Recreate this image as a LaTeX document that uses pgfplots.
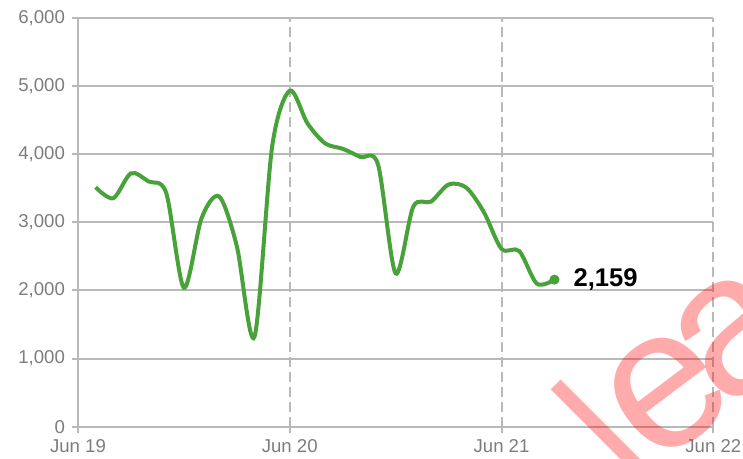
\documentclass[border=0pt]{standalone}
\usepackage{fontspec}
\setmainfont{Liberation Sans}
\usepackage{pgfplots}
\pgfplotsset{compat=1.18}
\definecolor{linegreen}{RGB}{72,162,58}
\definecolor{gridgray}{RGB}{185,185,185}
\definecolor{labelgray}{RGB}{125,125,125}

\pgfplotstableread{
h v
2 3515
4 3354
6 3720
8 3600
10 3430
12 2040
14 3060
16 3380
18 2650
20 1320
22 4110
24 4934
26 4455
28 4160
30 4080
32 3960
34 3850
36 2250
38 3231
40 3304
42 3556
44 3510
46 3150
48 2610
50 2580
52 2100
54 2159
}\datatable

\begin{document}
\begin{tikzpicture}
\begin{axis}[
  name=ax,
  scale only axis,
  width=317.65pt, height=204.35pt,
  xmin=0, xmax=72, ymin=0, ymax=6000,
  axis lines=left,
  axis line style={-, draw=gridgray, line width=1pt},
  xtick={0,24,48,72},
  xticklabels={Jun 19,Jun 20,Jun 21,Jun 22},
  ytick={0,1000,...,6000},
  tick align=outside,
  major tick length=3pt,
  tick style={draw=gridgray, line width=1pt},
  ymajorgrids, xmajorgrids,
  y grid style={draw=gridgray, line width=1pt},
  x grid style={draw=gridgray, line width=1pt, dash pattern=on 5pt off 2.5pt},
  ticklabel style={font=\fontsize{9.3}{11}\selectfont, text=labelgray},
  /pgf/number format/1000 sep={,},
  /pgf/number format/assume math mode=true,
]
\addplot[linegreen, line width=2pt, smooth, tension=0.5] table[x=h, y=v] {\datatable};
\addplot[only marks, mark=*, mark size=2.3pt, linegreen] coordinates {(54,2159)};
\node[anchor=west, xshift=6pt, font=\bfseries\fontsize{12.8}{15}\selectfont] at (axis cs:54,2159) {2,159};
\coordinate (wml) at (axis cs:58.84,10);
\coordinate (wme) at (axis cs:66.77,495);
\coordinate (wma) at (axis cs:74.48,1347);
\end{axis}
\begin{scope}[every node/.style={text=red, opacity=0.33, inner sep=0pt}]
\node[rotate=45, anchor=center, font=\fontsize{80}{90}\selectfont] at (wml) {l};
\node[rotate=37, anchor=center, font=\fontsize{100}{110}\selectfont] at (wme) {e};
\node[rotate=39, anchor=center, font=\fontsize{100}{110}\selectfont] at (wma) {a};
\end{scope}
\pgfresetboundingbox
\path ([shift={(-39pt,-16.15pt)}]ax.south west) rectangle ([shift={(14.85pt,9pt)}]ax.north east);
\end{tikzpicture}
\end{document}
